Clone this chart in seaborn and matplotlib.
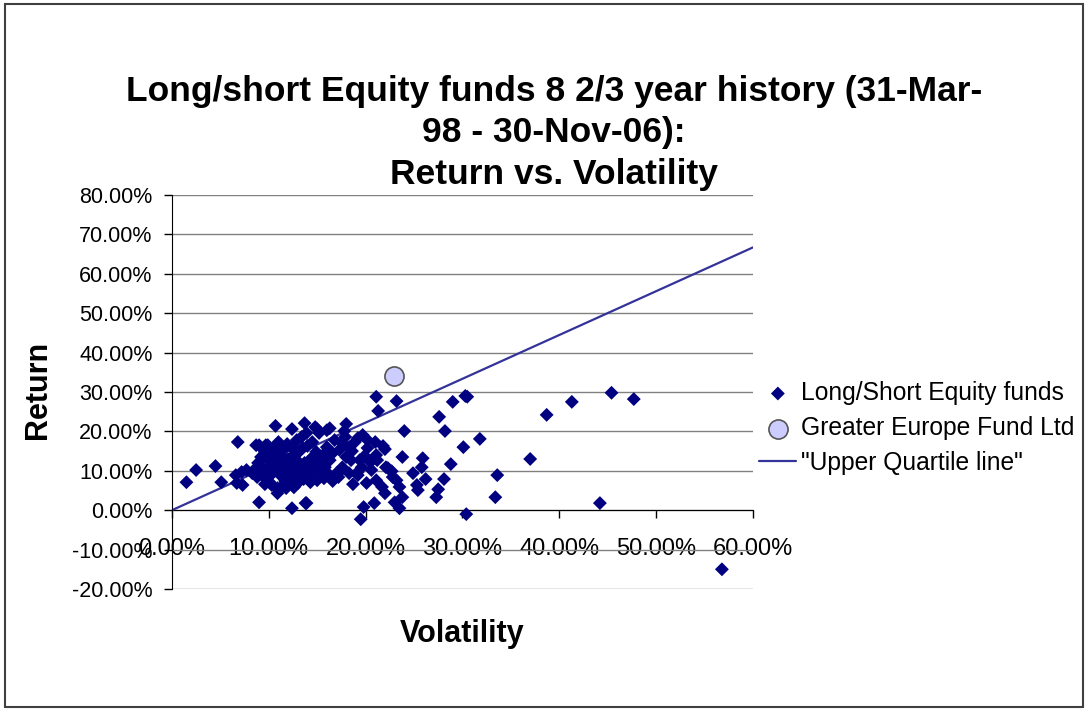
import matplotlib
matplotlib.use("Agg")
import seaborn as sns
import pandas as pd
from matplotlib import pyplot as plt
from matplotlib.patches import Rectangle
from matplotlib.ticker import PercentFormatter, MultipleLocator

# volatility / return in percent
vol = [
    1.5, 2.5, 4.5, 5.1, 6.6, 6.7, 6.8, 7.2, 7.3, 7.7, 8.7, 9.0, 9.7, 13.9,
    8.3, 8.6, 8.9, 9.0, 9.2, 9.3, 9.5, 9.6, 9.8, 9.9, 10.0, 10.1, 10.2, 10.4,
    10.5, 10.6, 10.7, 10.8, 10.9, 10.9, 10.3,
    11.0, 11.1, 11.2, 11.3, 11.5, 11.6, 11.7, 11.8, 11.9, 12.0, 12.1, 12.2,
    12.3, 12.4, 12.4, 12.5, 12.6, 12.7, 12.8, 12.9,
    13.0, 13.1, 13.2, 13.3, 13.4, 13.5, 13.6, 13.7, 13.7, 13.8, 13.9, 14.0,
    14.2, 14.4, 14.5, 14.5, 14.7, 14.9, 14.9, 15.0,
    15.2, 15.2, 15.5, 15.8, 16.0, 16.3, 16.3, 16.6, 17.0, 17.3, 17.5, 17.6,
    17.6, 17.8, 18.0, 18.0, 18.3, 18.5, 18.7, 18.9,
    19.2, 19.2, 19.2, 19.4, 19.5, 19.6, 19.7, 19.8, 20.1, 20.2, 20.6, 20.9,
    21.0, 21.1, 21.1, 21.1, 21.2, 21.3, 21.7, 21.8, 22.0, 22.0, 22.1, 22.3,
    22.7, 22.8, 23.0, 23.2, 23.2, 23.5, 23.5, 23.8, 23.8, 24.0, 24.9, 25.3,
    25.4, 25.8, 25.9, 26.2,
    27.3, 27.5, 27.6, 28.1, 28.2, 28.8, 29.0, 30.1, 30.3, 30.5, 30.4, 31.8,
    33.4, 33.6, 37.0, 38.7, 41.3, 44.2, 45.4, 47.7, 56.8,
    12.0, 12.6, 13.0, 14.3, 15.0, 15.7, 16.6, 17.2, 11.4, 10.0, 9.4, 8.8,
    9.6, 10.4, 11.0, 11.9, 12.9, 13.4, 14.0, 15.6, 16.8, 17.9, 18.3, 18.6,
    19.9, 20.5, 20.2, 14.8, 16.0, 16.3,
]
ret = [
    7.1, 10.2, 11.2, 7.1, 8.9, 6.9, 17.3, 9.7, 6.4, 10.2, 16.5, 2.0, 16.5, 1.8,
    9.4, 10.5, 12.0, 16.5, 13.5, 11.0, 8.4, 14.8, 10.2, 16.5, 12.7, 7.1, 15.3, 9.4,
    11.7, 13.5, 21.4, 16.5, 5.6, 4.3, 6.4,
    10.9, 14.0, 8.9, 12.2, 9.9, 15.5, 7.4, 5.6, 11.4, 13.0, 10.4, 8.1,
    16.0, 20.6, 0.5, 12.0, 9.1, 14.3, 7.6, 10.9,
    12.4, 8.4, 15.0, 10.2, 9.4, 15.8, 7.9, 12.0, 22.1, 1.8, 19.6, 8.9,
    11.2, 13.2, 9.7, 17.3, 10.4, 14.8, 12.0, 20.6,
    19.6, 12.7, 9.4, 10.9, 16.0, 12.7, 8.9, 14.5, 9.4, 15.3, 10.2, 17.0,
    10.9, 20.1, 21.9, 13.5, 9.4, 12.7, 6.6, 17.3,
    18.3, 8.9, 9.7, 12.7, -2.3, 10.9, 19.1, 0.8, 6.9, 15.8, 10.2, 1.8,
    17.3, 7.6, 14.0, 28.8, 12.7, 25.2, 5.9, 16.3, 15.5, 4.3, 10.9, 10.7,
    9.9, 8.4, 2.0, 27.7, 7.6, 5.9, 0.5, 13.5, 3.3, 20.1, 9.4, 6.4,
    5.1, 10.9, 13.2, 7.9,
    3.3, 5.3, 23.7, 7.9, 20.1, 11.7, 27.5, 16.0, 29.0, 28.8, -1.0, 18.1,
    3.3, 8.9, 13.0, 24.2, 27.5, 1.8, 29.8, 28.2, -15.0,
    6.6, 5.8, 6.9, 7.1, 7.6, 8.1, 7.4, 8.4, 6.1, 8.6, 9.9, 8.4,
    6.6, 14.0, 17.3, 16.8, 17.8, 18.6, 16.3, 14.0, 17.8, 18.6, 16.0, 15.0,
    13.8, 12.2, 17.8, 21.1, 20.3, 20.8,
]

fund_vol = [22.9]
fund_ret = [34.1]

quartile_vol = [0, 60]
quartile_ret = [0, 66.7]

title = "Long/short Equity funds 8 2/3 year history (31-Mar-\n98 - 30-Nov-06):\nReturn vs. Volatility"

sns.set_style("white")
plt.rcParams["font.family"] = ["Liberation Sans", "DejaVu Sans"]
plt.rcParams["axes.unicode_minus"] = False
plt.rcParams["text.color"] = "black"

fig = plt.figure(figsize=(10.88, 7.11), dpi=100)
ax = fig.add_axes([0.158, 0.1716, 0.534, 0.5541])

funds = pd.DataFrame({"vol": vol, "ret": ret})
sns.scatterplot(data=funds, x="vol", y="ret", marker="D", s=50, color="#000080",
                edgecolor="none", ax=ax, label="Long/Short Equity funds", zorder=3)
sns.scatterplot(x=fund_vol, y=fund_ret, marker="o", s=190, color="#CCCCFF",
                edgecolor="#555555", linewidth=1.2, ax=ax,
                label="Greater Europe Fund Ltd", zorder=4)
sns.lineplot(x=quartile_vol, y=quartile_ret, color="#333399", linewidth=1.6,
             ax=ax, label='"Upper Quartile line"', zorder=2)

ax.set_xlim(0, 60)
ax.set_ylim(-20, 80)
ax.xaxis.set_major_locator(MultipleLocator(10))
ax.yaxis.set_major_locator(MultipleLocator(10))
ax.xaxis.set_major_formatter(PercentFormatter(decimals=2))
ax.yaxis.set_major_formatter(PercentFormatter(decimals=2))

ax.yaxis.grid(True, color="#808080", linewidth=1)
ax.xaxis.grid(False)
ax.set_axisbelow(True)

for side in ["top", "right"]:
    ax.spines[side].set_visible(False)
ax.spines["bottom"].set_position(("data", 0))
ax.spines["bottom"].set_color("black")
ax.spines["left"].set_color("black")
ax.spines["bottom"].set_zorder(1)

ax.tick_params(axis="x", direction="out", length=6, width=1, color="black",
               pad=14, labelsize=17, labelcolor="black")
ax.tick_params(axis="y", direction="out", length=6, width=1, color="black",
               pad=8, labelsize=15.5, labelcolor="black")
ax.tick_params(bottom=True, left=True)

ax.set_xlabel("")
ax.set_ylabel("")
fig.text(0.425, 0.109, "Volatility", ha="center", va="center",
         fontsize=22, fontweight="bold")
fig.text(0.035, 0.452, "Return", ha="center", va="center", rotation=90,
         fontsize=22, fontweight="bold")
fig.text(0.509, 0.895, title, ha="center", va="top", fontsize=25.5,
         fontweight="bold", linespacing=1.33)

ax.legend(loc="center left", bbox_to_anchor=(0.698, 0.398),
          bbox_transform=fig.transFigure, frameon=False, fontsize=17.7,
          handlelength=1.5, handletextpad=0.2, labelspacing=0.45,
          borderaxespad=0, borderpad=0)

fig.patches.append(Rectangle((0.005, 0.005), 0.99, 0.99, transform=fig.transFigure,
                             fill=False, edgecolor="#404040", linewidth=1.5))

plt.savefig("out.png", dpi=100)
